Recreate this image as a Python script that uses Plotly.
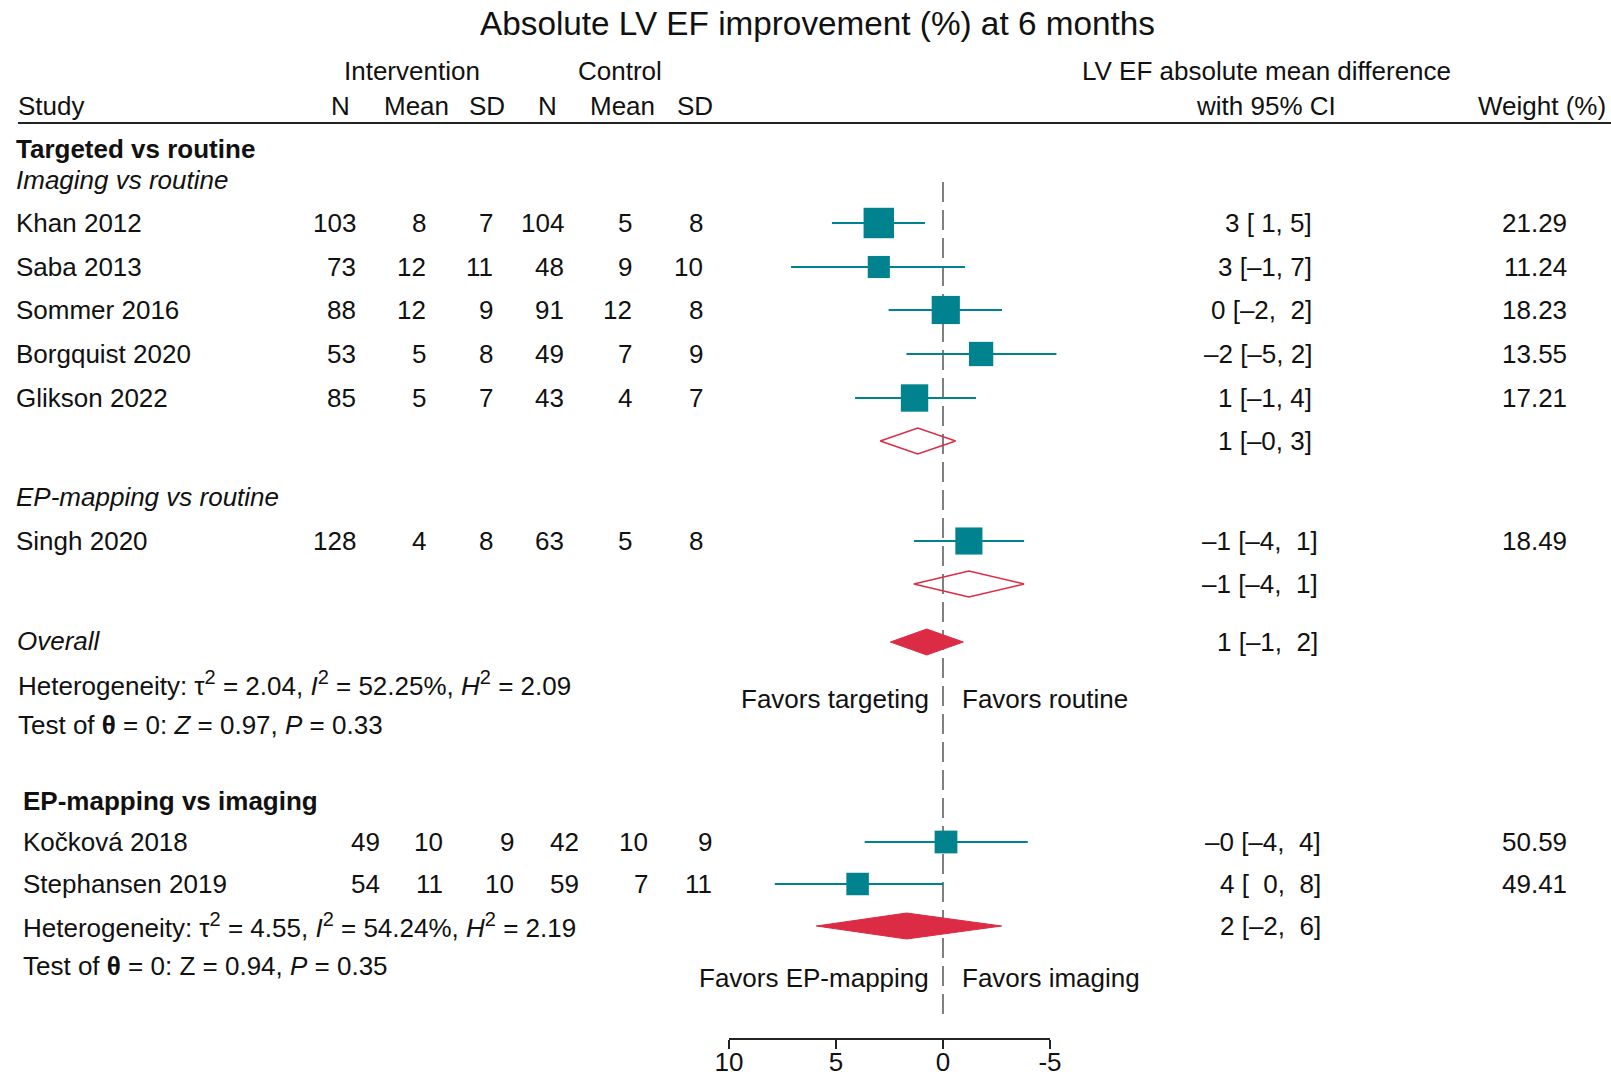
import plotly.graph_objects as go

# ---- data ----
sub1_study = ["Khan 2012", "Saba 2013", "Sommer 2016", "Borgquist 2020", "Glikson 2022"]
sub1_int_n = [103, 73, 88, 53, 85]
sub1_int_mean = [8, 12, 12, 5, 5]
sub1_int_sd = [7, 11, 9, 8, 7]
sub1_ctl_n = [104, 48, 91, 49, 43]
sub1_ctl_mean = [5, 9, 12, 7, 4]
sub1_ctl_sd = [8, 10, 8, 9, 7]
sub1_md = [3.0, 3.0, -0.13, -1.78, 1.33]
sub1_lo = [0.84, -1.03, -2.76, -5.3, -1.54]
sub1_hi = [5.19, 7.1, 2.54, 1.71, 4.11]
sub1_ci = ["3 [ 1, 5]", "3 [–1, 7]", "0 [–2,  2]", "–2 [–5, 2]", "1 [–1, 4]"]
sub1_weight = [21.29, 11.24, 18.23, 13.55, 17.21]
sub1_pool = [1.18, -0.59, 2.93]
sub1_pool_ci = "1 [–0, 3]"

sub2_study = ["Singh 2020"]
sub2_int_n = [128]
sub2_int_mean = [4]
sub2_int_sd = [8]
sub2_ctl_n = [63]
sub2_ctl_mean = [5]
sub2_ctl_sd = [8]
sub2_md = [-1.21]
sub2_lo = [-3.79]
sub2_hi = [1.36]
sub2_ci = ["–1 [–4,  1]"]
sub2_weight = [18.49]
sub2_pool = [-1.21, -3.79, 1.36]
sub2_pool_ci = "–1 [–4,  1]"

overall_pool = [0.76, -0.95, 2.46]
overall_ci = "1 [–1,  2]"

sub3_study = ["Kočková 2018", "Stephansen 2019"]
sub3_int_n = [49, 54]
sub3_int_mean = [10, 11]
sub3_int_sd = [9, 10]
sub3_ctl_n = [42, 59]
sub3_ctl_mean = [10, 7]
sub3_ctl_sd = [9, 11]
sub3_md = [-0.14, 3.99]
sub3_lo = [-3.96, -0.01]
sub3_hi = [3.66, 7.86]
sub3_ci = ["–0 [–4,  4]", "4 [  0,  8]"]
sub3_weight = [50.59, 49.41]
sub3_pool = [1.7, -2.74, 5.92]
sub3_pool_ci = "2 [–2,  6]"

axis_ticks = [10, 5, 0, -5]
axis_ticktext = ["10", "5", "0", "-5"]

# ---- layout constants ----
W, H = 1611, 1072
FONT = "Liberation Sans, Arial, sans-serif"
TXT = "#111111"
TEAL = "#00838F"
RED = "#DC2B44"
FS = 26
ZERO_PX = 943
PX_PER_UNIT = 21.4
SUP2 = "<sup><span style='font-size:20px'>2</span></sup>"

annotations = []


def nb(s):
    return s.replace(" ", "\u00a0")


def txt(x, y, s, anchor="left", size=FS):
    # annotation boxes carry a little padding; nudge so the glyphs land on x
    if anchor == "left":
        x -= 2.5
    elif anchor == "right":
        x += 2.5
    annotations.append(dict(x=x / W, xref="paper", y=y, yref="y", text=s,
                            xanchor=anchor, yanchor="middle", showarrow=False,
                            font=dict(family=FONT, size=size, color=TXT)))


fig = go.Figure()


def study_rows(ys, study, cols, md, lo, hi, ci, weight, lab_x, col_x, ci_x, size_k):
    for i, y in enumerate(ys):
        txt(lab_x, y, study[i])
        for cx, col in zip(col_x, cols):
            txt(cx, y, str(col[i]), "right")
        txt(ci_x, y, nb(ci[i]), "right")
        txt(1566, y, f"{weight[i]:.2f}", "right")
    xs, yy = [], []
    for i, y in enumerate(ys):
        xs += [lo[i], hi[i], None]
        yy += [y, y, None]
    fig.add_trace(go.Scatter(x=xs, y=yy, mode="lines", line=dict(color=TEAL, width=2),
                             hoverinfo="skip", showlegend=False))
    fig.add_trace(go.Scatter(x=md, y=ys, mode="markers",
                             marker=dict(symbol="square", color=TEAL, opacity=1,
                                         size=[size_k * w ** 0.5 for w in weight],
                                         line=dict(width=0)),
                             showlegend=False))


def diamond(y, pool, filled, ci_text, ci_x):
    est, lo, hi = pool
    h = 13
    fig.add_trace(go.Scatter(x=[lo, est, hi, est, lo], y=[y, y - h, y, y + h, y],
                             mode="lines", fill="toself",
                             fillcolor=RED if filled else "rgba(255,255,255,0)",
                             line=dict(color=RED, width=1 if filled else 1.5),
                             hoverinfo="skip", showlegend=False))
    txt(ci_x, y, nb(ci_text), "right")


# dashed zero line
fig.add_shape(type="line", xref="x", yref="y", x0=0, x1=0, y0=182, y1=1015,
              line=dict(color="#808080", width=2, dash="20px,8px"), layer="below")

# header
txt(817, 23, "Absolute LV EF improvement (%) at 6 months", "center", 33.3)
txt(412, 71, "Intervention", "center")
txt(620, 71, "Control", "center")
txt(1266, 71, "LV EF absolute mean difference", "center")
txt(18.5, 106, "Study")
for hx, ht in zip([349, 448, 505, 556, 654, 712], ["N", "Mean", "SD", "N", "Mean", "SD"]):
    txt(hx, 106, ht, "right")
txt(1266, 106, "with 95% CI", "center")
txt(1605, 106, "Weight (%)", "right")
fig.add_shape(type="line", xref="paper", yref="y", x0=18 / W, x1=1, y0=123, y1=123,
              line=dict(color="#222222", width=2))

# targeted vs routine
txt(16.5, 149, "<b>Targeted vs routine</b>")
txt(16.5, 180, "<i>Imaging vs routine</i>")
col1 = [355, 425, 493, 563, 631, 702]
study_rows([223, 267, 310, 354, 398], sub1_study,
           [sub1_int_n, sub1_int_mean, sub1_int_sd, sub1_ctl_n, sub1_ctl_mean, sub1_ctl_sd],
           sub1_md, sub1_lo, sub1_hi, sub1_ci, sub1_weight, 16.5, col1, 1311, 6.6)
diamond(441, sub1_pool, False, sub1_pool_ci, 1311)

txt(16.5, 497, "<i>EP-mapping vs routine</i>")
study_rows([541], sub2_study,
           [sub2_int_n, sub2_int_mean, sub2_int_sd, sub2_ctl_n, sub2_ctl_mean, sub2_ctl_sd],
           sub2_md, sub2_lo, sub2_hi, sub2_ci, sub2_weight, 16.5, col1, 1317, 6.3)
diamond(584, sub2_pool, False, sub2_pool_ci, 1317)

txt(17.5, 641, "<i>Overall</i>")
diamond(642, overall_pool, True, overall_ci, 1317)
txt(18.5, 683, f"Heterogeneity: τ{SUP2} = 2.04, <i>I</i>{SUP2} = 52.25%, <i>H</i>{SUP2} = 2.09")
txt(18.5, 725, "Test of <b>θ</b> = 0: <i>Z</i> = 0.97, <i>P</i> = 0.33")
txt(928, 699, "Favors targeting", "right")
txt(962, 699, "Favors routine", "left")

# EP-mapping vs imaging
txt(23.5, 801, "<b>EP-mapping vs imaging</b>")
col3 = [379, 442, 513, 578, 647, 711]
study_rows([842, 884], sub3_study,
           [sub3_int_n, sub3_int_mean, sub3_int_sd, sub3_ctl_n, sub3_ctl_mean, sub3_ctl_sd],
           sub3_md, sub3_lo, sub3_hi, sub3_ci, sub3_weight, 23.5, col3, 1320, 3.2)
diamond(926, sub3_pool, True, sub3_pool_ci, 1320)
txt(23.5, 925, f"Heterogeneity: τ{SUP2} = 4.55, <i>I</i>{SUP2} = 54.24%, <i>H</i>{SUP2} = 2.19")
txt(23.5, 966, "Test of <b>θ</b> = 0: Z = 0.94, <i>P</i> = 0.35")
txt(928, 978, "Favors EP-mapping", "right")
txt(962, 978, "Favors imaging", "left")

# invisible trace to carry the visible bottom axis
fig.add_trace(go.Scatter(x=[axis_ticks[0], axis_ticks[-1]], y=[None, None], xaxis="x2", yaxis="y",
                         mode="markers", hoverinfo="skip", showlegend=False))

fig.update_layout(
    width=W, height=H, autosize=False,
    margin=dict(l=0, r=0, t=0, b=0, pad=0),
    paper_bgcolor="white", plot_bgcolor="rgba(0,0,0,0)",
    showlegend=False,
    xaxis=dict(range=[ZERO_PX / PX_PER_UNIT, (ZERO_PX - W) / PX_PER_UNIT], visible=False,
               fixedrange=True, automargin=False),
    yaxis=dict(range=[H, 0], visible=False, fixedrange=True, automargin=False),
    xaxis2=dict(domain=[(ZERO_PX - 10 * PX_PER_UNIT) / W, (ZERO_PX + 5 * PX_PER_UNIT) / W],
                range=[axis_ticks[0], axis_ticks[-1]], anchor="free", position=1 - 1039 / H,
                showline=True, linecolor="#222222", linewidth=2, ticks="outside",
                ticklen=9, tickwidth=2, tickcolor="#222222", automargin=False,
                ticklabelstandoff=-9,
                tickvals=axis_ticks, ticktext=axis_ticktext, showgrid=False, zeroline=False,
                tickfont=dict(family=FONT, size=FS, color=TXT)),
    annotations=annotations,
)

fig.write_html("out.html", config={"displayModeBar": False},
               post_script="document.body.style.margin='0px';")
